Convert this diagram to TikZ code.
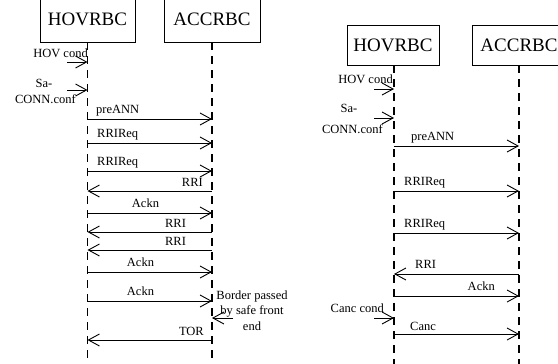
\documentclass[tikz,border=0pt]{standalone}
\usepackage{fontspec}
\setmainfont{Liberation Serif}
\usetikzlibrary{arrows.meta}
\begin{document}
\begin{tikzpicture}[x=1pt,y=-1pt,
  box/.style={draw, line width=0.9pt, inner sep=0pt, font=\fontsize{19}{22}\selectfont},
  life/.style={line width=1.2pt, dash pattern=on 8pt off 6pt},
  msg/.style={line width=0.9pt, line join=round, -{Straight Barb[length=11pt,width=12pt,line join=miter]}},
  lbl/.style={inner sep=0pt, font=\fontsize{12.5}{15.5}\selectfont},
]
\useasboundingbox (0,0) rectangle (558,364);
\clip (0,0) rectangle (558,364);

% ---------------- left diagram ----------------
\node[box, minimum width=95pt, minimum height=45pt] (H1) at (87.5,19.5) {HOVRBC};
\node[box, minimum width=96pt, minimum height=45pt] (A1) at (212,19.5) {ACCRBC};
\coordinate (H1e) at (87.5,364);
\coordinate (A1e) at (212,364);
\draw[life] (H1.south) -- (H1e);
\draw[life] (A1.south) -- (A1e);

% HOV cond
\coordinate (l1a) at (67,62); \coordinate (l1b) at (87.5,62);
\draw[msg] (l1a) -- (l1b);
\node[lbl, anchor=base east] (t1) at (88,57.5) {HOV cond};
% Sa-CONN.conf
\coordinate (l2a) at (67,90); \coordinate (l2b) at (87.5,90);
\draw[msg] (l2a) -- (l2b);
\node[lbl, anchor=base] (t2a) at (44,87.5) {Sa-};
\node[lbl, anchor=base east] (t2b) at (76,103.5) {CONN.conf};
% preANN
\coordinate (l3a) at (87.5,119); \coordinate (l3b) at (212,119);
\draw[msg] (l3a) -- (l3b);
\node[lbl, anchor=base west] (t3) at (96,113.5) {preANN};
% RRIReq
\coordinate (l4a) at (87.5,143); \coordinate (l4b) at (212,143);
\draw[msg] (l4a) -- (l4b);
\node[lbl, anchor=base west] (t4) at (97,137) {RRIReq};
% RRIReq
\coordinate (l5a) at (87.5,171); \coordinate (l5b) at (212,171);
\draw[msg] (l5a) -- (l5b);
\node[lbl, anchor=base west] (t5) at (97,165) {RRIReq};
% RRI
\coordinate (l6a) at (212,191); \coordinate (l6b) at (87.5,191);
\draw[msg] (l6a) -- (l6b);
\node[lbl, anchor=base east] (t6) at (203,186) {RRI};
% Ackn
\coordinate (l7a) at (87.5,213); \coordinate (l7b) at (212,213);
\draw[msg] (l7a) -- (l7b);
\node[lbl, anchor=base] (t7) at (145.5,207) {Ackn};
% RRI
\coordinate (l8a) at (212,232); \coordinate (l8b) at (87.5,232);
\draw[msg] (l8a) -- (l8b);
\node[lbl, anchor=base] (t8) at (175.5,227) {RRI};
% RRI
\coordinate (l9a) at (212,250); \coordinate (l9b) at (87.5,250);
\draw[msg] (l9a) -- (l9b);
\node[lbl, anchor=base] (t9) at (175.5,245) {RRI};
% Ackn
\coordinate (l10a) at (87.5,272); \coordinate (l10b) at (212,272);
\draw[msg] (l10a) -- (l10b);
\node[lbl, anchor=base] (t10) at (140.5,266.5) {Ackn};
% Ackn
\coordinate (l11a) at (87.5,301); \coordinate (l11b) at (212,301);
\draw[msg] (l11a) -- (l11b);
\node[lbl, anchor=base] (t11) at (140.5,295.5) {Ackn};
% Border passed by safe front end
\coordinate (l12a) at (233,318); \coordinate (l12b) at (212,318);
\draw[msg] (l12a) -- (l12b);
\node[lbl, anchor=base, align=center] (t12) at (252,330) {Border passed\\by safe front\\end};
% TOR
\coordinate (l13a) at (212,340); \coordinate (l13b) at (87.5,340);
\draw[msg] (l13a) -- (l13b);
\node[lbl, anchor=base east] (t13) at (204,335) {TOR};

% ---------------- right diagram ----------------
\node[box, minimum width=92pt, minimum height=40pt] (H2) at (393,45) {HOVRBC};
\node[box, minimum width=94pt, minimum height=40pt] (A2) at (519,45) {ACCRBC};
\coordinate (H2e) at (394,364);
\coordinate (A2e) at (519,364);
\draw[life] (H2.south -| H2e) -- (H2e);
\draw[life] (A2.south) -- (A2e);

% HOV cond
\coordinate (r1a) at (374,89); \coordinate (r1b) at (394,89);
\draw[msg] (r1a) -- (r1b);
\node[lbl, anchor=base east] (u1) at (393,83.5) {HOV cond};
% Sa-CONN.conf
\coordinate (r2a) at (374,118); \coordinate (r2b) at (394,118);
\draw[msg] (r2a) -- (r2b);
\node[lbl, anchor=base] (u2a) at (349,112.5) {Sa-};
\node[lbl, anchor=base east] (u2b) at (383,133) {CONN.conf};
% preANN
\coordinate (r3a) at (394,146); \coordinate (r3b) at (519,146);
\draw[msg] (r3a) -- (r3b);
\node[lbl, anchor=base west] (u3) at (411,140.5) {preANN};
% RRIReq
\coordinate (r4a) at (394,191); \coordinate (r4b) at (519,191);
\draw[msg] (r4a) -- (r4b);
\node[lbl, anchor=base west] (u4) at (404,185) {RRIReq};
% RRIReq
\coordinate (r5a) at (394,233); \coordinate (r5b) at (519,233);
\draw[msg] (r5a) -- (r5b);
\node[lbl, anchor=base west] (u5) at (404,227) {RRIReq};
% RRI
\coordinate (r6a) at (519,274); \coordinate (r6b) at (394,274);
\draw[msg] (r6a) -- (r6b);
\node[lbl, anchor=base west] (u6) at (415,268.5) {RRI};
% Ackn
\coordinate (r7a) at (394,296); \coordinate (r7b) at (519,296);
\draw[msg] (r7a) -- (r7b);
\node[lbl, anchor=base east] (u7) at (495,290.5) {Ackn};
% Canc cond
\coordinate (r8a) at (374,318); \coordinate (r8b) at (394,318);
\draw[msg] (r8a) -- (r8b);
\node[lbl, anchor=base east] (u8) at (384,312.5) {Canc cond};
% Canc
\coordinate (r9a) at (394,334); \coordinate (r9b) at (519,334);
\draw[msg] (r9a) -- (r9b);
\node[lbl, anchor=base west] (u9) at (410,330) {Canc};
\end{tikzpicture}
\end{document}
